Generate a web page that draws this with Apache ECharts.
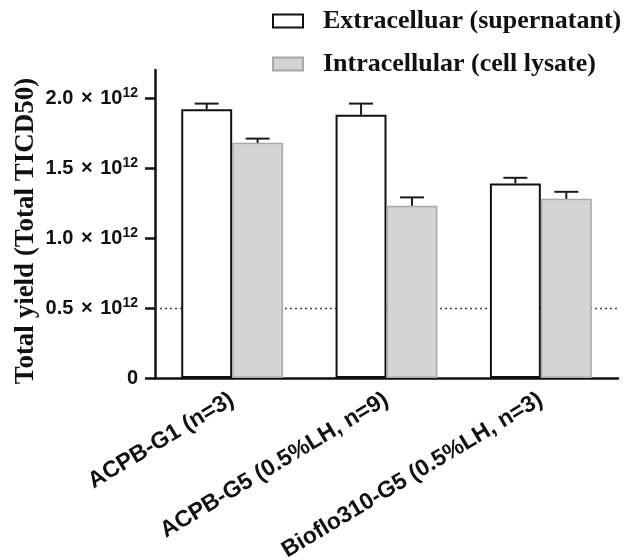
<!DOCTYPE html>
<html><head><meta charset="utf-8">
<script src="https://cdn.jsdelivr.net/npm/echarts@6/dist/echarts.min.js"></script>
<style>html,body{margin:0;padding:0;background:#fff}#c{width:627px;height:560px}</style>
</head><body><div id="c"></div>
<script>
const categories = ['ACPB-G1 (n=3)', 'ACPB-G5 (0.5%LH, n=9)', 'Bioflo310-G5 (0.5%LH, n=3)'];
const seriesNames = ['Extracelluar (supernatant)', 'Intracellular (cell lysate)'];
// values in units of 10^12 TICD50
const extraMean = [1.92, 1.88, 1.39];
const extraErr  = [0.04, 0.08, 0.04];
const intraMean = [1.68, 1.23, 1.28];
const intraErr  = [0.03, 0.06, 0.05];
const yTicks = [0, 0.5, 1.0, 1.5, 2.0];
const refLine = 0.5;

const GAP = 0.34;
const chart = echarts.init(document.getElementById('c'));

function errSeries(name, means, errs, side) {
  return {
    type: 'custom', name: name + ' err', z: 5, silent: true,
    data: means.map((m, i) => [i, m, m + errs[i]]),
    renderItem: function (params, api) {
      const band = api.size([1, 0])[0];
      const bw = band * (1 - GAP) / 2;
      const base = api.coord([api.value(0), api.value(1)]);
      const top = api.coord([api.value(0), api.value(2)]);
      const x = base[0] + side * bw / 2;
      const cap = 12;
      const st = { stroke: '#1a1a1a', lineWidth: 2 };
      return { type: 'group', children: [
        { type: 'line', shape: { x1: x, y1: base[1], x2: x, y2: top[1] }, style: st },
        { type: 'line', shape: { x1: x - cap, y1: top[1], x2: x + cap, y2: top[1] }, style: st }
      ]};
    }
  };
}

const lblFont = { fontFamily: 'Liberation Sans', fontWeight: 'bold', fontSize: 20, color: '#111' };

chart.setOption({
  animation: false,
  backgroundColor: '#fff',
  grid: { left: 155, right: 9, top: 70, bottom: 182, containLabel: false, outerBoundsMode: 'none' },
  legend: {
    orient: 'vertical', left: 267, top: 3, itemGap: 17,
    itemWidth: 30, itemHeight: 13, icon: 'rect',
    data: seriesNames,
    textStyle: { fontFamily: 'Liberation Serif', fontWeight: 'bold', fontSize: 26, color: '#111', padding: [0, 0, 0, 15] }
  },
  xAxis: {
    type: 'category', data: categories,
    axisLine: { lineStyle: { color: '#111', width: 2.5 } },
    axisTick: { alignWithLabel: true, length: 8, lineStyle: { width: 2.5, color: '#111' } },
    axisLabel: { rotate: 31, fontFamily: 'Liberation Sans', fontWeight: 'bold', fontSize: 23, color: '#111', margin: 20 }
  },
  yAxis: {
    type: 'value', min: 0, max: 2.2,
    name: 'Total yield (Total TICD50)', nameLocation: 'middle', nameGap: 115, nameMoveOverlap: false,
    nameTextStyle: { fontFamily: 'Liberation Serif', fontWeight: 'bold', fontSize: 27, color: '#111', padding: [0, 14, 0, 0] },
    axisLine: { show: true, lineStyle: { color: '#111', width: 2.5 } },
    axisTick: { show: true, length: 10, customValues: yTicks, lineStyle: { width: 2.5, color: '#111' } },
    splitLine: { show: false },
    axisLabel: {
      customValues: yTicks, margin: 17,
      formatter: v => v === 0 ? '{m|0}' : '{m|' + v.toFixed(1) + ' }{x|×}{m| 10}{s|12}',
      rich: {
        m: lblFont,
        x: Object.assign({}, lblFont, { padding: [0, 2, 0, 2] }),
        s: { fontFamily: 'Liberation Sans', fontWeight: 'bold', fontSize: 14, color: '#111', verticalAlign: 'top', padding: [0, 0, 9, 0] }
      }
    }
  },
  series: [
    { type: 'line', data: [], z: 1, silent: true,
      markLine: { silent: true, symbol: 'none', z: 1, label: { show: false },
        lineStyle: { type: [2, 3], color: '#444', width: 1.3 },
        data: [{ yAxis: refLine }] } },
    { name: seriesNames[0], type: 'bar', data: extraMean, barGap: '0%', barCategoryGap: (GAP * 100) + '%', z: 3,
      itemStyle: { color: '#fff', borderColor: '#111', borderWidth: 2 } },
    { name: seriesNames[1], type: 'bar', data: intraMean, z: 3,
      itemStyle: { color: '#d4d4d4', borderColor: '#a8a8a8', borderWidth: 1.5 } },
    errSeries(seriesNames[0], extraMean, extraErr, -1),
    errSeries(seriesNames[1], intraMean, intraErr, 1)
  ]
});
</script></body></html>
